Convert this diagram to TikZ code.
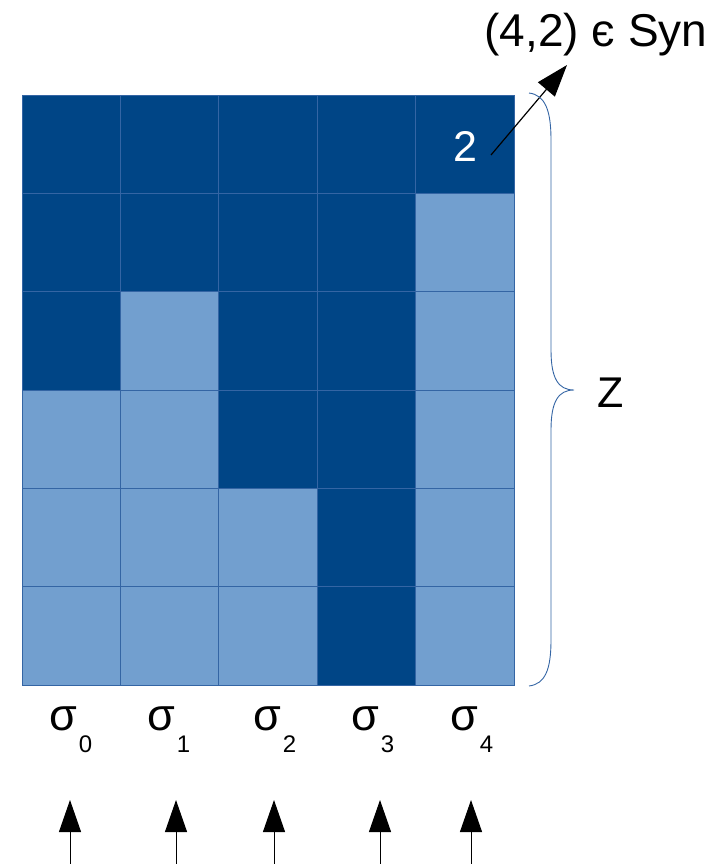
\documentclass[tikz,border=0pt]{standalone}
\usepackage{fontspec}
\setmainfont{Liberation Sans}
\usetikzlibrary{arrows.meta}
\definecolor{darkc}{HTML}{004586}
\definecolor{lightc}{HTML}{729FCF}
\definecolor{gridc}{HTML}{3465A4}
\tikzset{
  cell/.style={draw=gridc, line width=0.8pt, minimum width=98.4pt, minimum height=98.33pt, inner sep=0pt, outer sep=0pt},
  big/.style={font=\fontsize{43}{50}\selectfont, inner sep=0pt},
  sig/.style={font=\fontsize{45}{50}\selectfont, inner sep=0pt, anchor=base west},
  arr/.style={line width=1.2pt, -{Triangle[length=32pt,width=22pt]}},
  brace/.style={draw=gridc, line width=0.9pt}
}
\newcommand{\subs}[1]{\raisebox{-22pt}{\fontsize{24}{26}\selectfont #1}}
\begin{document}
\begin{tikzpicture}[x=1pt,y=-1pt]
\useasboundingbox (0,0) rectangle (720,864);
\foreach \c/\r in {4/1,1/2,4/2,0/3,1/3,4/3,0/4,1/4,2/4,4/4,0/5,1/5,2/5,4/5}
  \node[cell, fill=lightc] (c\c\r) at ({22+98.4*(\c+0.5)},{95+98.333*(\r+0.5)}) {};
\foreach \c/\r in {0/0,1/0,2/0,3/0,4/0,0/1,1/1,2/1,3/1,0/2,2/2,3/2,2/3,3/3,3/4,3/5}
  \node[cell, fill=darkc] (c\c\r) at ({22+98.4*(\c+0.5)},{95+98.333*(\r+0.5)}) {};
\node[big, text=white] (two) at (465,146) {2};
\coordinate (astart) at (491,155);
\coordinate (atip) at (567,65);
\node[big, font=\fontsize{46}{52}\selectfont] (syn) at (596,35) {(4,2) є Syn};
\draw[arr] (astart) -- (atip);
% brace
\coordinate (btop) at (529,93);
\coordinate (bmid) at (574,390);
\coordinate (bbot) at (529,686);
\draw[brace] (btop) .. controls (545,95) and (551,110) .. (551,140) -- (551,350)
  .. controls (551,378) and (558,390) .. (bmid)
  .. controls (558,390) and (551,402) .. (551,430) -- (551,640)
  .. controls (551,670) and (545,684) .. (bbot);
\node[big] (z) at (611,393) {Z};
% sigma labels
\node[sig] (s0) at (49,730) {σ\hspace{2pt}\subs{0}};
\node[sig] (s1) at (147,730) {σ\hspace{2pt}\subs{1}};
\node[sig] (s2) at (253,730) {σ\hspace{2pt}\subs{2}};
\node[sig] (s3) at (351,730) {σ\hspace{2pt}\subs{3}};
\node[sig] (s4) at (450,730) {σ\hspace{2pt}\subs{4}};
% bottom arrows
\foreach \i/\x in {0/70,1/176,2/274,3/380,4/471}{
  \coordinate (b\i) at (\x,866);
  \coordinate (t\i) at (\x,800);
  \draw[arr, line width=1pt] (b\i) -- (t\i);
}
\end{tikzpicture}
\end{document}
